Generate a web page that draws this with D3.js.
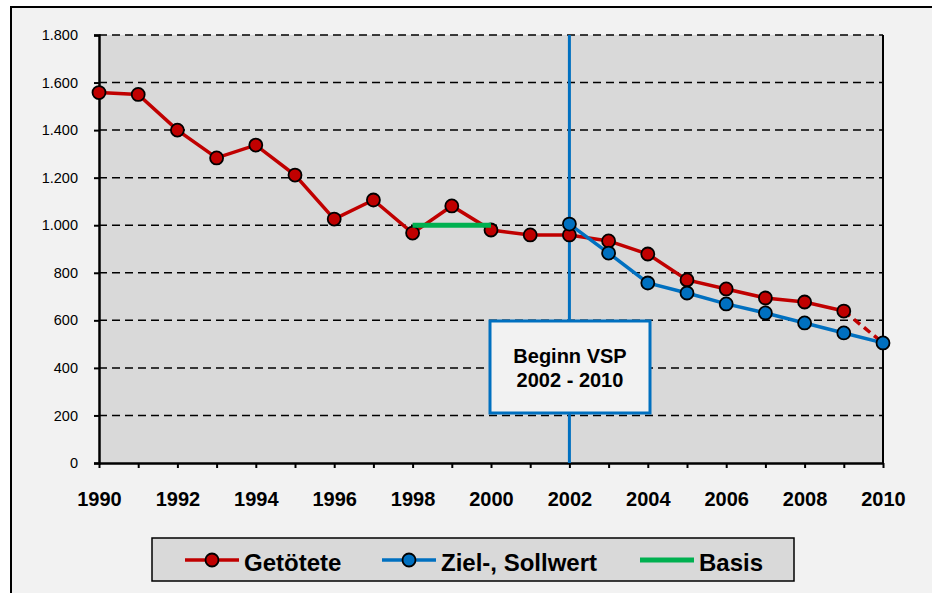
<!DOCTYPE html>
<html>
<head>
<meta charset="utf-8">
<script src="https://cdn.jsdelivr.net/npm/d3@7"></script>
<style>
  body { margin: 0; background: #fff; }
  svg { display: block; font-family: "Liberation Sans", Arial, sans-serif; }
</style>
</head>
<body>
<svg id="chart" width="932" height="593"></svg>
<script>
// data
const killedYears = [1990, 1991, 1992, 1993, 1994, 1995, 1996, 1997, 1998, 1999,
                     2000, 2001, 2002, 2003, 2004, 2005, 2006, 2007, 2008, 2009];
const killed = [1558, 1550, 1400, 1283, 1337, 1211, 1026, 1106, 967, 1081,
                980, 959, 959, 934, 879, 770, 732, 694, 677, 639];
const killedForecastYears = [2009, 2010];
const killedForecast = [639, 505];
const targetYears = [2002, 2003, 2004, 2005, 2006, 2007, 2008, 2009, 2010];
const target = [1005, 883, 757, 715, 669, 631, 589, 547, 505];
const basisYears = [1998, 2000];
const basis = [1000, 1000];
const yTicks = [0, 200, 400, 600, 800, 1000, 1200, 1400, 1600, 1800];
const xLabelYears = [1990, 1992, 1994, 1996, 1998, 2000, 2002, 2004, 2006, 2008, 2010];
const startYear = 2002;
const boxLines = ["Beginn VSP", "2002 - 2010"];
const legendItems = [
  { name: "Getötete", color: "#c00000", marker: true },
  { name: "Ziel-, Sollwert", color: "#0070c0", marker: true },
  { name: "Basis", color: "#00b050", marker: false }
];

const red = "#c00000", blue = "#0070c0", green = "#00b050";

const svg = d3.select("#chart");
const pLeft = 99, pRight = 883, pTop = 35, pBottom = 463;

const x = d3.scaleLinear().domain([1990, 2010]).range([pLeft, pRight]);
const y = d3.scaleLinear().domain([0, 1800]).range([pBottom, pTop]);

const de = d3.formatLocale({ decimal: ",", thousands: ".", grouping: [3], currency: ["", ""] });
const fmt = de.format(",.0f");

// outer frame
svg.append("rect")
  .attr("x", 11).attr("y", 7).attr("width", 940).attr("height", 600)
  .attr("fill", "#f2f2f2").attr("stroke", "#000").attr("stroke-width", 2);

// plot area
svg.append("rect")
  .attr("x", pLeft).attr("y", pTop).attr("width", pRight - pLeft).attr("height", pBottom - pTop)
  .attr("fill", "#d9d9d9");

// dashed gridlines
svg.append("g").selectAll("line")
  .data(yTicks.filter(d => d > 0))
  .join("line")
  .attr("x1", pLeft).attr("x2", pRight)
  .attr("y1", d => y(d)).attr("y2", d => y(d))
  .attr("stroke", "#000").attr("stroke-width", 1.5)
  .attr("stroke-dasharray", "8,5");

// right border of plot area
svg.append("line")
  .attr("x1", pRight).attr("x2", pRight).attr("y1", pTop).attr("y2", pBottom)
  .attr("stroke", "#000").attr("stroke-width", 2);

// y axis
const yAxis = svg.append("g")
  .attr("transform", `translate(${pLeft},0)`)
  .call(d3.axisLeft(y).tickValues(yTicks).tickFormat(fmt).tickSize(5).tickPadding(16));
yAxis.select(".domain").attr("stroke-width", 2.5);
yAxis.selectAll(".tick line").attr("stroke-width", 2);
yAxis.selectAll("text").attr("font-size", 14.5).attr("fill", "#000")
  .attr("font-family", "'Liberation Sans', Arial, sans-serif");

// x axis
const xAxis = svg.append("g")
  .attr("transform", `translate(0,${pBottom})`)
  .call(d3.axisBottom(x).tickValues(d3.range(1990, 2011))
    .tickFormat(d => xLabelYears.includes(d) ? d : "")
    .tickSize(5).tickPadding(24).tickSizeOuter(0));
xAxis.select(".domain").attr("stroke-width", 2.5);
xAxis.selectAll(".tick line").attr("stroke-width", 2);
xAxis.selectAll("text").attr("font-size", 20).attr("font-weight", "bold").attr("fill", "#000")
  .attr("font-family", "'Liberation Sans', Arial, sans-serif");

// vertical start line
svg.append("line")
  .attr("x1", x(startYear)).attr("x2", x(startYear))
  .attr("y1", pTop).attr("y2", pBottom)
  .attr("stroke", blue).attr("stroke-width", 3);

const line = d3.line().x(d => x(d[0])).y(d => y(d[1]));

// Getötete
svg.append("path")
  .datum(d3.zip(killedYears, killed))
  .attr("d", line).attr("fill", "none")
  .attr("stroke", red).attr("stroke-width", 3.5);
svg.append("path")
  .datum(d3.zip(killedForecastYears, killedForecast))
  .attr("d", line).attr("fill", "none")
  .attr("stroke", red).attr("stroke-width", 3.5).attr("stroke-dasharray", "8,5");
svg.append("g").selectAll("circle")
  .data(d3.zip(killedYears, killed))
  .join("circle")
  .attr("cx", d => x(d[0])).attr("cy", d => y(d[1])).attr("r", 6.5)
  .attr("fill", red).attr("stroke", "#000").attr("stroke-width", 1.8);

// Basis
svg.append("path")
  .datum(d3.zip(basisYears, basis))
  .attr("d", line).attr("fill", "none")
  .attr("stroke", green).attr("stroke-width", 5);

// Ziel-, Sollwert
svg.append("path")
  .datum(d3.zip(targetYears, target))
  .attr("d", line).attr("fill", "none")
  .attr("stroke", blue).attr("stroke-width", 3.5);
svg.append("g").selectAll("circle")
  .data(d3.zip(targetYears, target))
  .join("circle")
  .attr("cx", d => x(d[0])).attr("cy", d => y(d[1])).attr("r", 6.5)
  .attr("fill", blue).attr("stroke", "#000").attr("stroke-width", 1.8);

// annotation box
const box = svg.append("g");
box.append("rect")
  .attr("x", 490).attr("y", 321).attr("width", 160).attr("height", 92)
  .attr("fill", "#f2f2f2").attr("stroke", blue).attr("stroke-width", 3);
box.selectAll("text")
  .data(boxLines)
  .join("text")
  .attr("x", 570).attr("y", (d, i) => 363 + i * 24)
  .attr("text-anchor", "middle")
  .attr("font-size", 20).attr("font-weight", "bold")
  .text(d => d);

// legend
const legend = svg.append("g");
legend.append("rect")
  .attr("x", 152).attr("y", 538).attr("width", 642).attr("height", 43)
  .attr("fill", "#d9d9d9").attr("stroke", "#000").attr("stroke-width", 1.5);
const legendX = [185, 382, 640];
const item = legend.selectAll("g.item")
  .data(legendItems)
  .join("g")
  .attr("class", "item")
  .attr("transform", (d, i) => `translate(${legendX[i]},560)`);
item.append("line")
  .attr("x1", 0).attr("x2", 54)
  .attr("stroke", d => d.color).attr("stroke-width", d => d.marker ? 3.5 : 5);
item.filter(d => d.marker).append("circle")
  .attr("cx", 27).attr("r", 6.5)
  .attr("fill", d => d.color).attr("stroke", "#000").attr("stroke-width", 1.8);
item.append("text")
  .attr("x", 59).attr("y", 11)
  .attr("font-size", 24).attr("font-weight", "bold")
  .text(d => d.name);
</script>
</body>
</html>
